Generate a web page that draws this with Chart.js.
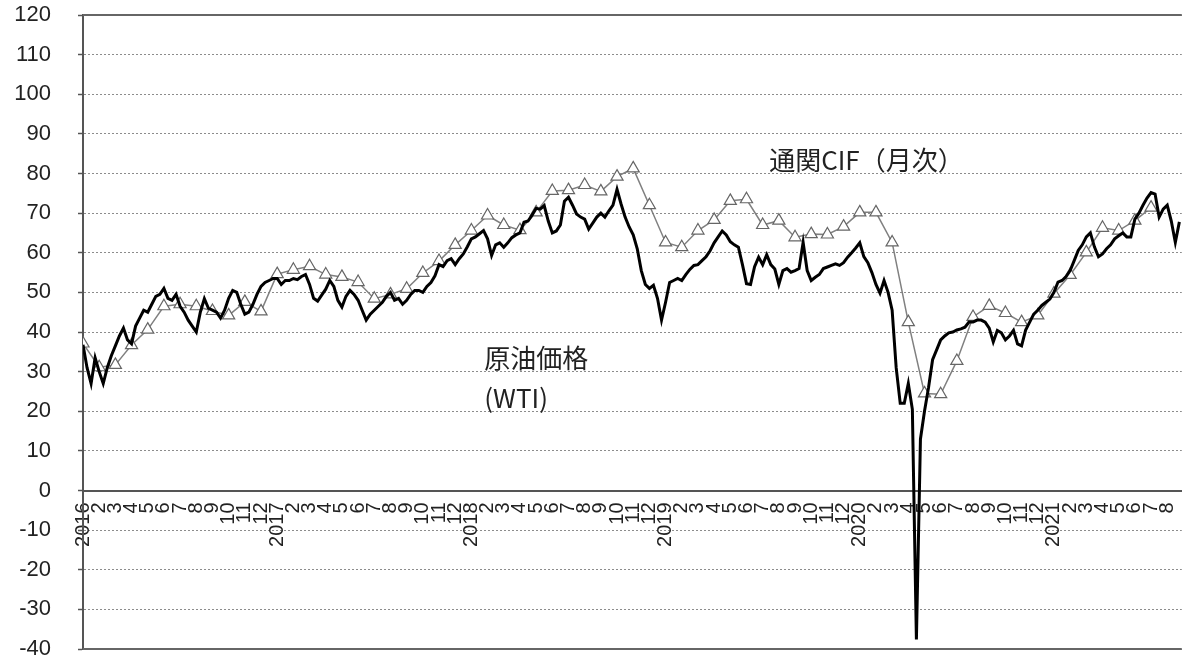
<!DOCTYPE html>
<html>
<head>
<meta charset="utf-8">
<script src="https://cdn.jsdelivr.net/npm/chart.js@4/dist/chart.umd.min.js"></script>
<style>
  html, body { margin: 0; padding: 0; background: #fff; }
  canvas { display: block; }
</style>
</head>
<body>
<canvas id="chart" width="1190" height="663"></canvas>
<script>
// 月ラベル (2016年1月〜2021年8月)
const monthLabels = [
  '2016', '2', '3', '4', '5', '6', '7', '8', '9', '10', '11', '12',
  '2017', '2', '3', '4', '5', '6', '7', '8', '9', '10', '11', '12',
  '2018', '2', '3', '4', '5', '6', '7', '8', '9', '10', '11', '12',
  '2019', '2', '3', '4', '5', '6', '7', '8', '9', '10', '11', '12',
  '2020', '2', '3', '4', '5', '6', '7', '8', '9', '10', '11', '12',
  '2021', '2', '3', '4', '5', '6', '7', '8',
];

// 通関CIF (月次, ドル/バレル)
const cifValues = [
  37.1, 31.1, 31.7, 36.7, 40.6, 46.5, 47.0, 46.5, 45.3, 44.2, 47.6, 45.2,
  54.6, 55.7, 56.6, 54.5, 53.9, 52.6, 48.4, 49.5, 50.9, 54.9, 57.9, 62.0,
  65.6, 69.4, 67.0, 65.7, 70.2, 75.6, 75.8, 77.1, 75.5, 79.2, 81.3, 72.0,
  62.6, 61.4, 65.6, 68.3, 73.1, 73.5, 67.0, 68.1, 63.9, 64.7, 64.6, 66.6,
  70.2, 70.2, 62.6, 42.5, 24.5, 24.3, 32.7, 43.8, 46.6, 44.8, 42.5, 44.2,
  49.7, 54.4, 60.1, 66.3, 65.6, 68.1, 71.4,
];

// 原油価格 WTI (ほぼ週次, 1ヶ月に4点)
const wtiValues = [
  36.8, 31, 27, 33.5, 30, 27, 31, 34, 36.5, 39, 41, 38, 37, 41.5, 43.5, 45.5,
  45, 47, 49, 49.5, 51, 48.5, 48, 49.5, 46.5, 45, 43, 41.5, 40, 45, 48.4, 46,
  45.5, 45, 43.5, 45.5, 48.5, 50.5, 50, 47, 44.5, 45, 47, 49.5, 51.5, 52.5, 53, 53.5,
  53.5, 52, 53, 53, 53.5, 53.2, 54, 54.5, 52, 48.5, 47.8, 49.3, 50.8, 53, 51.5, 48,
  46.3, 49, 50.5, 49.5, 48, 45.5, 43, 44.5, 45.5, 46.5, 47.5, 49, 50, 48, 48.5, 47,
  48, 49.5, 50.5, 50.5, 50, 51.5, 52.5, 54.2, 57, 56.5, 58, 58.5, 57, 58.5, 59.7, 61.5,
  63.5, 64, 64.8, 65.6, 63.5, 59.3, 62, 62.5, 61.4, 62.5, 63.8, 64.5, 65, 67.7, 68, 69.5,
  71.2, 71, 71.9, 68, 65, 65.5, 67, 73, 74, 72, 69.8, 69, 68.5, 66, 67.5, 69,
  70, 69, 70.6, 72, 76, 72.3, 69, 66.5, 64.5, 61, 55.5, 52, 51, 51.8, 48.5, 43,
  47.5, 52.5, 53, 53.5, 53, 54.5, 55.8, 56.8, 57, 58, 59, 60.5, 62.5, 64, 65.5, 64.5,
  62.8, 62, 61.4, 57, 52.2, 52, 56.5, 58.9, 57, 59.5, 57, 55.9, 52, 55.5, 56, 55.1,
  55.5, 56, 62.6, 55.5, 53, 53.8, 54.5, 56, 56.4, 56.8, 57.2, 56.8, 57.5, 58.9, 60, 61.2,
  62.5, 59, 57.5, 55, 52, 49.8, 53, 50, 45.5, 31, 22, 22, 27, 20.5, -37.6, 13,
  20, 26, 33, 35.5, 38, 39, 39.8, 40, 40.5, 40.8, 41.2, 42.5, 42.5, 43, 43, 42.5,
  41, 37.5, 40.4, 39.8, 38, 39, 40.4, 37, 36.5, 40.5, 42.5, 44.5, 45.5, 46.7, 47.5, 48.3,
  50, 52.6, 53, 54, 55.5, 58, 60.6, 62, 64, 65, 61.5, 59, 59.7, 61, 62, 63.5,
  64.3, 65, 64, 64, 68.5, 70, 72, 73.8, 75.2, 74.8, 69, 71, 72, 68, 62.6, 67.8,
];
const WTI_STEP = 0.25; // 月単位

const yTicks = { min: -40, max: 120, step: 10 };

const NUM_FONT = '"Liberation Sans", Arial, sans-serif';
const JP_FONT = '"Noto Sans CJK JP", sans-serif';

// グラフ内の注記
const notes = [
  { text: '通関CIF（月次）', x: 42.4, y: 83.5 },
  { text: '原油価格', x: 24.8, y: 33.5 },
  { text: '(WTI)', x: 24.8, y: 23.4 },
];

const frame = {
  id: 'frame',
  afterDatasetsDraw(chart) {
    const { ctx, chartArea: { left, right, top, bottom } } = chart;
    ctx.save();
    ctx.strokeStyle = '#666';
    ctx.lineWidth = 2;
    ctx.beginPath();
    ctx.moveTo(left, top); ctx.lineTo(right, top);
    ctx.moveTo(left, bottom); ctx.lineTo(right, bottom);
    ctx.stroke();
    ctx.restore();
  },
};

const noteText = {
  id: 'noteText',
  afterDraw(chart) {
    const { ctx, scales: { x, y } } = chart;
    ctx.save();
    ctx.font = '26px ' + JP_FONT;
    ctx.fillStyle = '#222';
    ctx.textAlign = 'left';
    ctx.textBaseline = 'middle';
    for (const n of notes) {
      ctx.fillText(n.text, x.getPixelForValue(n.x), y.getPixelForValue(n.y));
    }
    ctx.restore();
  },
};

new Chart(document.getElementById('chart'), {
  type: 'line',
  data: {
    datasets: [
      {
        label: '原油価格(WTI)',
        data: wtiValues.map((v, k) => ({ x: k * WTI_STEP, y: v })),
        borderColor: '#000',
        borderWidth: 3,
        pointRadius: 0,
        tension: 0,
        order: 0,
      },
      {
        label: '通関CIF(月次)',
        data: cifValues.map((v, i) => ({ x: i, y: v })),
        borderColor: '#808080',
        borderWidth: 1.5,
        pointStyle: 'triangle',
        pointRadius: 7,
        pointBackgroundColor: '#fff',
        pointBorderColor: '#666',
        pointBorderWidth: 1.2,
        tension: 0,
        order: 1,
      },
    ],
  },
  options: {
    responsive: false,
    animation: false,
    devicePixelRatio: 1,
    layout: { padding: { top: 15, bottom: 14, left: 0, right: 0 } },
    plugins: { legend: { display: false }, tooltip: { enabled: false } },
    scales: {
      x: {
        type: 'linear',
        position: { y: 0 },
        min: 0,
        max: 67.9,
        afterBuildTicks: s => { s.ticks = monthLabels.map((_, i) => ({ value: i })); },
        afterFit: s => {
          s.paddingLeft = 0;
          s.paddingRight = 0;
        },
        ticks: {
          callback: v => monthLabels[v],
          autoSkip: false,
          minRotation: 90,
          maxRotation: 90,
          padding: 4,
          color: '#222',
          font: { size: 20, family: NUM_FONT },
        },
        grid: { display: false },
        border: { display: true, color: '#555', width: 2 },
      },
      y: {
        min: yTicks.min,
        max: yTicks.max,
        ticks: {
          stepSize: yTicks.step,
          padding: 27,
          color: '#222',
          font: { size: 22, family: NUM_FONT },
        },
        grid: { color: '#8c8c8c', lineWidth: 1, tickLength: 5, tickColor: '#555', tickWidth: 1.5 },
        border: { display: true, color: '#555', width: 2, dash: [2, 2] },
        afterFit: s => {
          s.width = 83;
          // ラベル分の上下余白は取らない
          s.paddingTop = 0;
          s.paddingBottom = 0;
        },
      },
    },
  },
  plugins: [frame, noteText],
});
</script>
</body>
</html>
